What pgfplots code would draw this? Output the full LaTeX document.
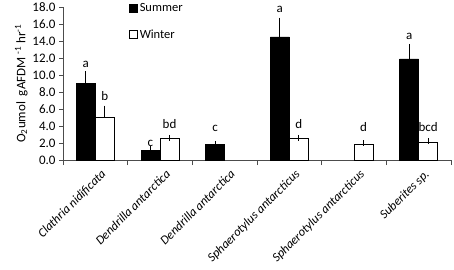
\documentclass[border=0pt]{standalone}
\usepackage{pgfplots}
\pgfplotsset{compat=1.18}
\usepackage{fontspec}
\setmainfont{Carlito}
\begin{document}
\begin{tikzpicture}[x=1pt,y=1pt]
\begin{axis}[
  at={(63pt,-160pt)}, anchor=south west,
  width=388pt, height=153pt, scale only axis,
  xmin=-0.5, xmax=5.5, ymin=0, ymax=18,
  ybar, bar width=19pt,
  axis x line=bottom, axis y line=left,
  axis line style={-, draw=gray!60!black, line width=0.6pt},
  font=\fontsize{13}{15}\selectfont,
  xtick={0,...,5},
  xticklabels={Clathria nidificata, Dendrilla antarctica, Dendrilla antarctica, Sphaerotylus antarcticus, Sphaerotylus antarcticus, Suberites sp.},
  xticklabel style={xshift=5pt, yshift=-3pt, rotate=45, anchor=north east, font=\fontsize{12.5}{14}\selectfont\itshape, inner sep=1pt},
  major x tick style={draw=none},
  minor xtick={-0.5,0.5,...,5.5},
  minor x tick style={draw=gray!60!black, line width=0.6pt},
  minor tick length=5pt,
  ytick={0,2,...,18},
  major tick length=4pt,
  y tick style={draw=gray!60!black, line width=0.6pt},
  tick align=outside,
  yticklabel style={/pgf/number format/.cd, fixed, fixed zerofill, precision=1, assume math mode=true},
  ylabel={O\textsubscript{2}umol\ \ gAFDM \textsuperscript{-1} hr\textsuperscript{-1}},
  ylabel style={yshift=-2pt},
  legend style={at={(0.17,1.04)}, anchor=north west, draw=none, fill=none, row sep=13pt, font=\fontsize{12.5}{14}\selectfont, inner sep=0pt},
  legend cell align=left,
  legend image code/.code={\draw[#1, draw=black, line width=0.6pt] (0pt,-4pt) rectangle (8pt,4pt);},
  clip=false,
]
\addplot[bar shift=-9.5pt, fill=black, draw=black,
  error bars/.cd, y dir=plus, y explicit,
  error bar style={black, line width=0.8pt},
  error mark options={black, mark size=3pt, line width=0.8pt}]
  coordinates {(0,9.0) +- (0,1.1) (1,1.1) +- (0,0.15) (2,1.85) +- (0,0.05) (3,14.5) +- (0,1.9) (5,11.9) +- (0,1.4)};
\addlegendentry{Summer}
\addplot[bar shift=9.5pt, fill=white, draw=black, line width=0.6pt,
  error bars/.cd, y dir=plus, y explicit,
  error bar style={black, line width=0.8pt},
  error mark options={black, mark size=3pt, line width=0.8pt}]
  coordinates {(0,5.0) +- (0,1.05) (1,2.5) +- (0,0.1) (3,2.5) +- (0,0.1) (4,1.9) +- (0,0.05) (5,2.1) +- (0,0.1)};
\addlegendentry{Winter}
\addplot[draw=none, fill=none, bar shift=0pt, bar width=0.1pt, forget plot, nodes near coords, point meta=explicit symbolic,
  nodes near coords style={anchor=base, font=\fontsize{13}{15}\selectfont, inner sep=0pt, yshift=0pt}]
  coordinates {(-0.147,10.9) [a] (0.147,7.0) [b] (0.853,1.6) [c] (1.147,3.7) [bd] (1.853,3.3) [c]
    (2.853,17.4) [a] (3.147,3.7) [d] (4.147,3.4) [d] (4.853,14.2) [a] (5.147,3.4) [bcd]};
\end{axis}
\pgfresetboundingbox
\useasboundingbox (0,0) rectangle (454,-269);
\end{tikzpicture}
\end{document}
